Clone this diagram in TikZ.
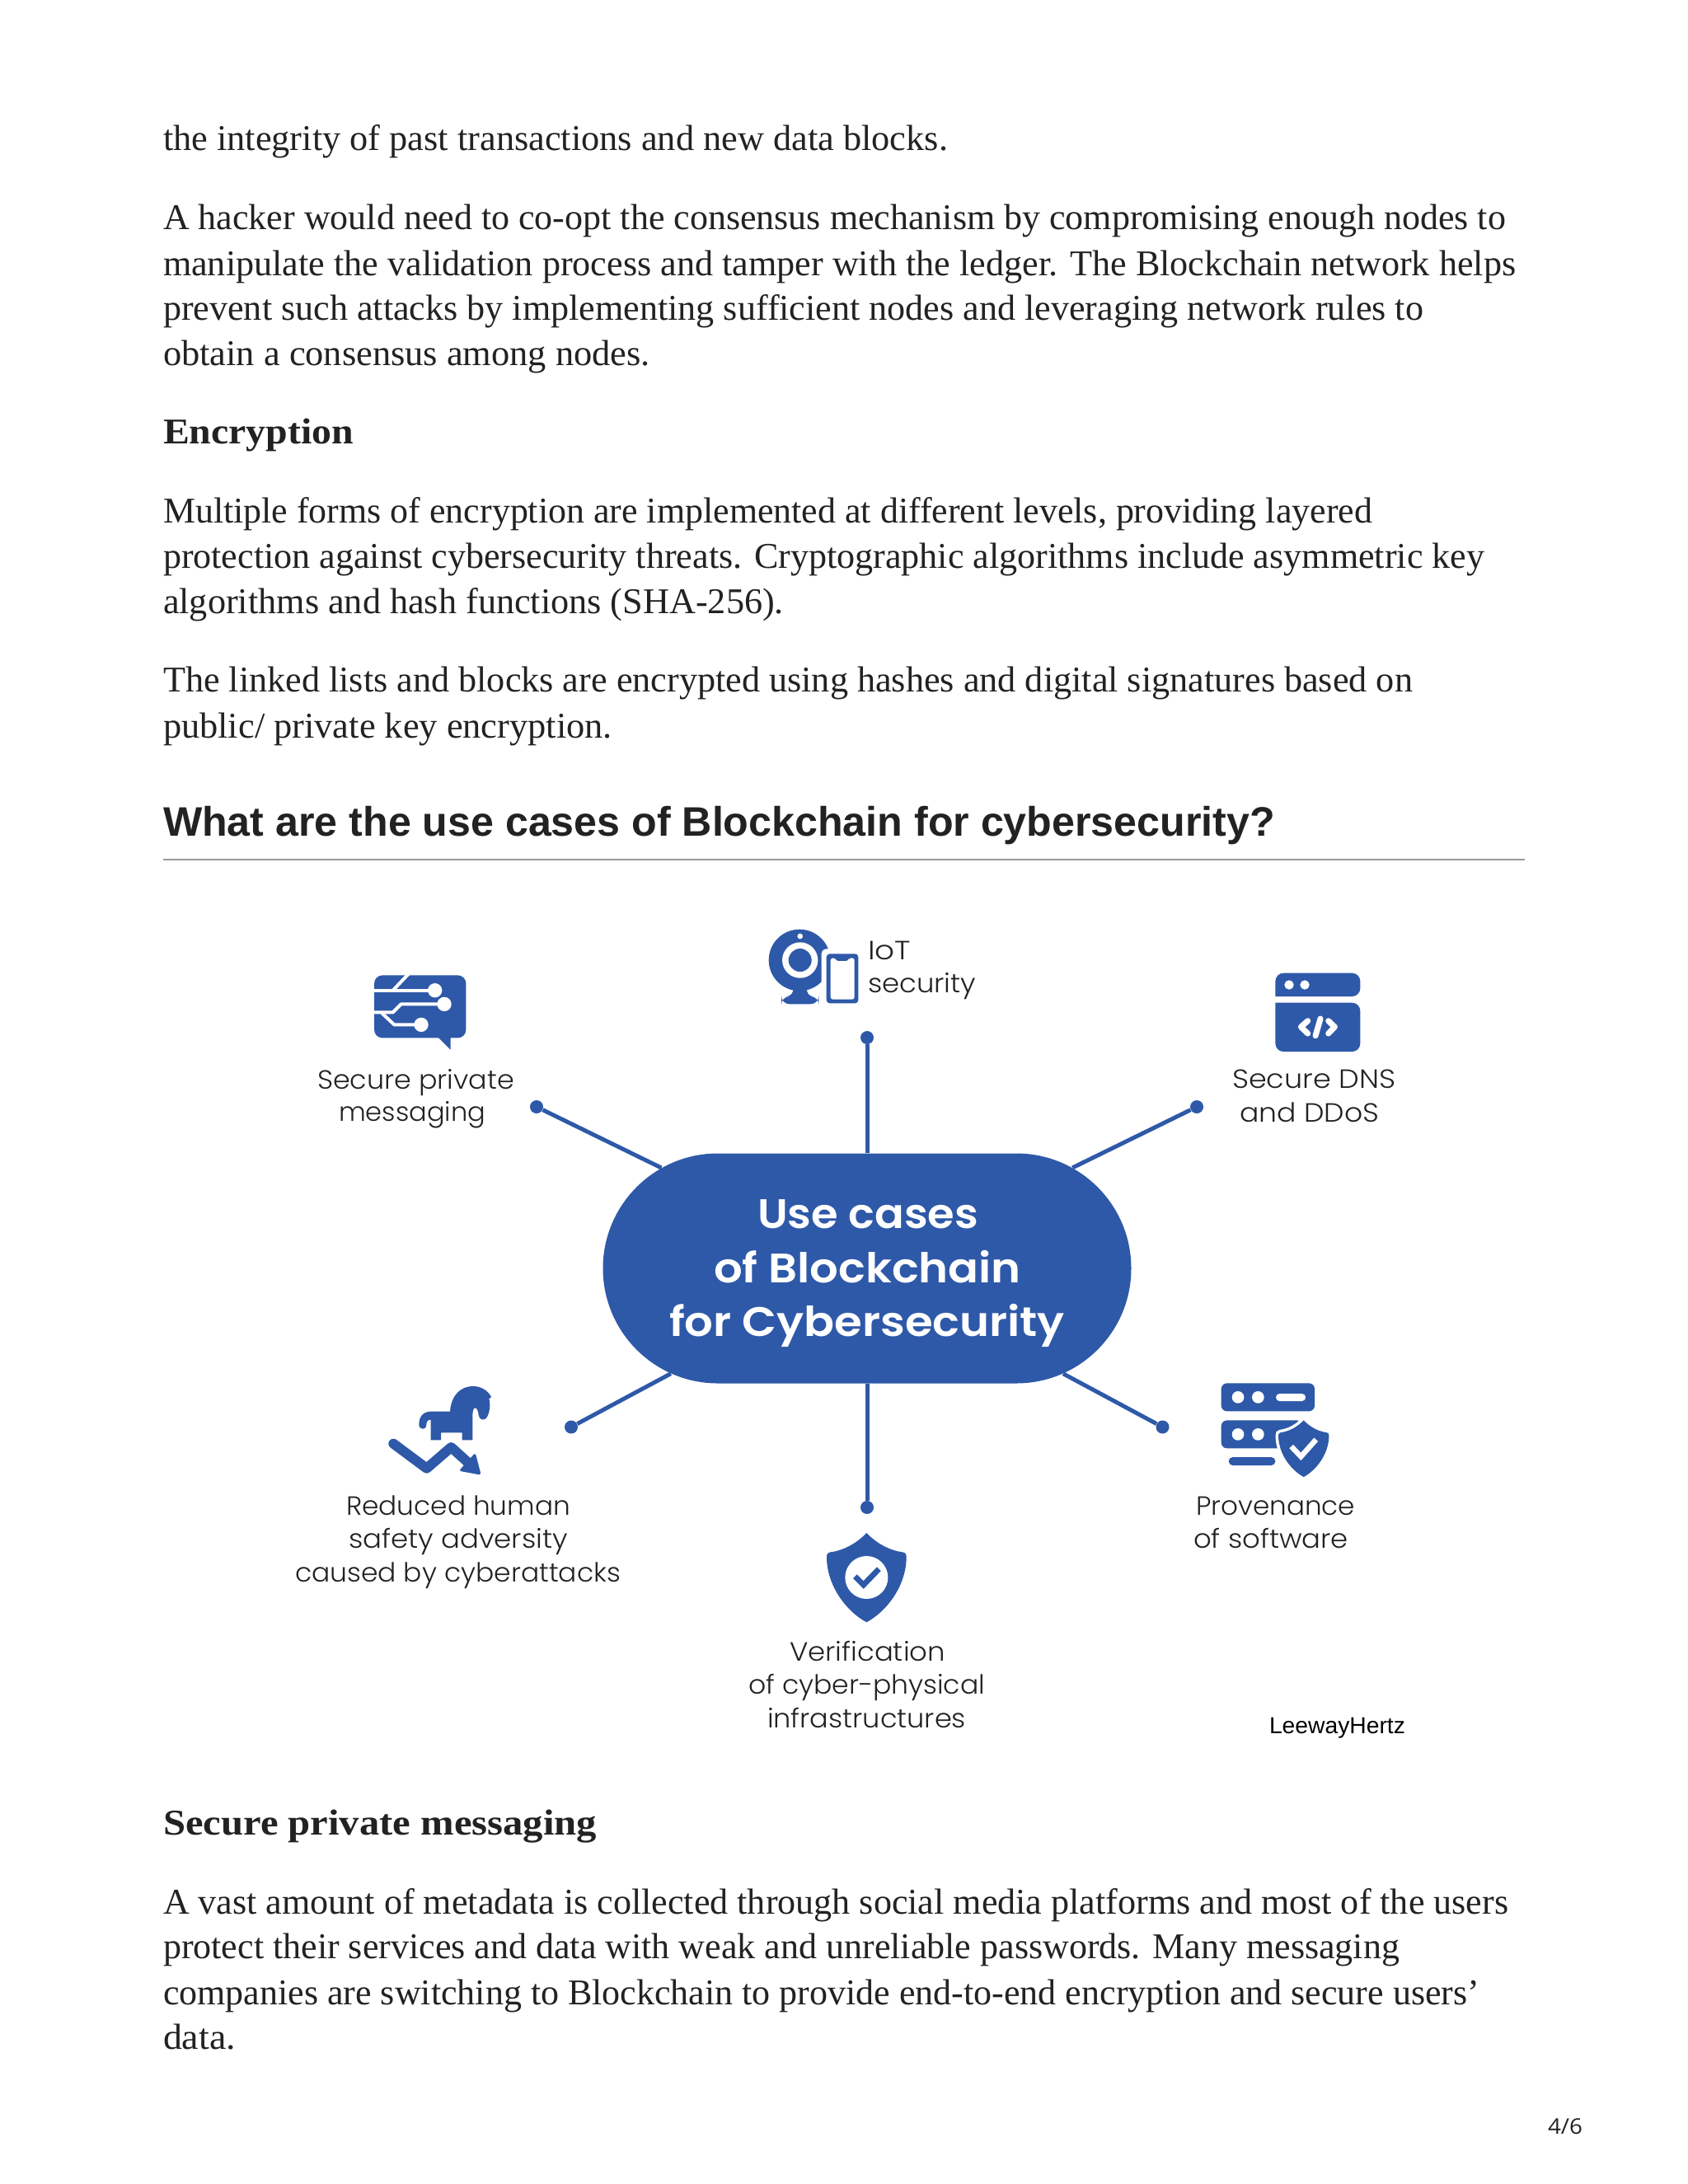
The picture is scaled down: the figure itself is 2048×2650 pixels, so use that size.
\documentclass[tikz,border=0pt]{standalone}
\usepackage{fontspec}
\usepackage{graphicx}
\usetikzlibrary{shapes.misc}
\newfontfamily\bodyf{Liberation Serif}
\newfontfamily\headf{Liberation Sans}
\newfontfamily\labf{Poppins Light}
\newfontfamily\pillf{Poppins SemiBold}
\newfontfamily\numf{Open Sans}
\newcommand\fBody{\bodyf\fontsize{22}{22}\selectfont}
\newcommand\fBold{\bodyf\bfseries\fontsize{22}{22}\selectfont}
\newcommand\fHead{\headf\bfseries\fontsize{25}{25}\selectfont}
\newcommand\fLab{\labf\fontsize{16}{16}\selectfont}
\newcommand\fPill{\pillf\fontsize{25}{25}\selectfont}
\newcommand\fLee{\headf\fontsize{14}{14}\selectfont}
\newcommand\fNum{\numf\fontsize{13}{13}\selectfont}
\definecolor{bluec}{HTML}{2E59A8}
\definecolor{inkc}{HTML}{222222}
\newsavebox\tlbox
% [colour] name, left x, baseline y, right x, font, text
\newcommand\tline[7][inkc]{%
  \pgfinterruptpicture\global\setbox\tlbox=\hbox{#6#7}\endpgfinterruptpicture
  \pgfmathsetmacro\sx{(#5-#3)*0.5/\wd\tlbox}%
  \node[anchor=base west,inner sep=0pt,outer sep=0pt,text=#1] (#2) at (#3,#4) {\scalebox{\sx}[1]{#6#7}};%
}
\tikzset{
  conn/.style={draw=bluec,line width=2.5pt},
  dotc/.style={fill=bluec,draw=none},
  trace/.style={draw=white,line width=2pt,line join=round},
  white stroke/.style={draw=white,line width=3.5pt,line cap=round,line join=round},
  iconfill/.style={fill=bluec,draw=none}
}
\newcommand\shieldpath{(0,0) .. controls (-40,42) and (-90,65) .. (-132,70) .. controls (-142,72) and (-145,78) .. (-145,88) .. controls (-145,190) and (-75,285) .. (0,325) .. controls (75,285) and (145,190) .. (145,88) .. controls (145,78) and (142,72) .. (132,70) .. controls (90,65) and (40,42) .. (0,0) -- cycle}
\begin{document}
\begin{tikzpicture}[x=0.5pt,y=-0.5pt]
\useasboundingbox (0,0) rectangle (2048,2650);
\fill[white] (0,0) rectangle (2048,2650);
% body text
\tline{a1}{198}{182}{1150}{\fBody}{the integrity of past transactions and new data blocks.}
\tline{a2}{198}{278}{1827}{\fBody}{A hacker would need to co-opt the consensus mechanism by compromising enough nodes to}
\tline{a3}{198}{334}{1839}{\fBody}{manipulate the validation process and tamper with the ledger. The Blockchain network helps}
\tline{a4}{198}{388}{1727}{\fBody}{prevent such attacks by implementing sufficient nodes and leveraging network rules to}
\tline{a5}{198}{443.5}{789}{\fBody}{obtain a consensus among nodes.}
\tline{a6}{198}{538.5}{429}{\fBold}{Encryption}
\tline{a7}{198}{634.5}{1665}{\fBody}{Multiple forms of encryption are implemented at different levels, providing layered}
\tline{a8}{198}{689}{1801}{\fBody}{protection against cybersecurity threats. Cryptographic algorithms include asymmetric key}
\tline{a9}{198}{744.5}{951}{\fBody}{algorithms and hash functions (SHA-256).}
\tline{a10}{198}{839}{1714}{\fBody}{The linked lists and blocks are encrypted using hashes and digital signatures based on}
\tline{a11}{198}{895}{743}{\fBody}{public/ private key encryption.}
\tline{h1}{198}{1014.5}{1547}{\fHead}{What are the use cases of Blockchain for cybersecurity?}
\draw[draw=gray!80,line width=1pt] (198,1042.5) coordinate (rl) -- (1850,1042.5) coordinate (rr);
\tline{b1}{198}{2226}{724}{\fBold}{Secure private messaging}
\tline{b2}{198}{2322}{1830}{\fBody}{A vast amount of metadata is collected through social media platforms and most of the users}
\tline{b3}{198}{2376}{1698}{\fBody}{protect their services and data with weak and unreliable passwords. Many messaging}
\tline{b4}{198}{2432}{1795}{\fBody}{companies are switching to Blockchain to provide end-to-end encryption and secure users’}
\tline{b5}{198}{2486}{286}{\fBody}{data.}
\tline{pg}{1878}{2589}{1920}{\fNum}{4/6}
% centre
\node[rounded rectangle,fill=bluec,draw=none,minimum width=320.5pt,minimum height=139.5pt,inner sep=0pt] (pill) at (1052,1539) {};
\foreach \n/\x/\y in {dt/1052/1259,dtl/651/1343,dtr/1452/1343,dbl/693/1731.5,dbr/1410.5/1731.5,db/1052/1829}{
  \node[circle,dotc,minimum size=8pt,inner sep=0pt] (\n) at (\x,\y) {};
  \draw[conn] (pill) -- (\n);
}
\tline[white]{p1}{919}{1490.5}{1187}{\fPill}{Use cases}
\tline[white]{p2}{866}{1556.5}{1239}{\fPill}{of Blockchain}
\tline[white]{p3}{812}{1621.5}{1292}{\fPill}{for Cybersecurity}
% labels
\tline{l1a}{385}{1321}{624}{\fLab}{Secure private}
\tline{l1b}{411}{1360.5}{589}{\fLab}{messaging}
\tline{l2a}{1053}{1164}{1105}{\fLab}{IoT}
\tline{l2b}{1053}{1204}{1184}{\fLab}{security}
\tline{l3a}{1495}{1320.5}{1693}{\fLab}{Secure DNS}
\tline{l3b}{1504}{1361}{1673}{\fLab}{and DDoS}
\tline{l4a}{420}{1838.5}{692}{\fLab}{Reduced human}
\tline{l4b}{423}{1878.5}{689}{\fLab}{safety adversity}
\tline{l4c}{358}{1919.5}{753}{\fLab}{caused by cyberattacks}
\tline{l5a}{958}{2015.5}{1147}{\fLab}{Verification}
\tline{l5b}{908}{2055.5}{1195}{\fLab}{of cyber-physical}
\tline{l5c}{931}{2096.5}{1172}{\fLab}{infrastructures}
\tline{l6a}{1451}{1838.5}{1644}{\fLab}{Provenance}
\tline{l6b}{1448}{1878.5}{1636}{\fLab}{of software}
\tline[black]{lh}{1540}{2103}{1705}{\fLee}{LeewayHertz}
% message icon
\begin{scope}[shift={(360,1080)},x=0.1667pt,y=-0.1667pt]
\fill[iconfill,rounded corners=5pt] (282,310) rectangle (616,538);
\fill[iconfill] (515,536) -- (560,581) -- (560,536) -- cycle;
\draw[trace] (276,365) -- (490,365);
\draw[trace] (350,365) -- (408,304);
\draw[trace] (276,445) -- (350,445) -- (380,415) -- (520,415);
\draw[trace] (310,448) -- (355,490) -- (440,490);
\fill[white] (503,365) circle (26) (537,415) circle (26) (453,490) circle (26);
\end{scope}
% webcam icon
\begin{scope}[shift={(880,1080)},x=0.1667pt,y=-0.1667pt]
\fill[iconfill] (270,255) circle (112);
\fill[iconfill] (248,355) -- (296,355) .. controls (296,375) and (305,387) .. (320,387) -- (220,387) .. controls (238,387) and (248,375) .. (248,355) -- cycle;
\fill[iconfill,rounded corners=5pt] (204,387) rectangle (340,415);
\fill[white] (272,255) circle (65);
\fill[iconfill] (272,255) circle (42);
\fill[white] (272,168) circle (10);
\fill[white,rounded corners=3pt] (350,214) rectangle (502,430);
\fill[iconfill,rounded corners=2pt] (368,232) rectangle (484,412);
\fill[white,rounded corners=1.5pt] (383,247) -- (400,247) -- (402,258) -- (448,258) -- (450,247) -- (470,247) -- (470,398) -- (383,398) -- cycle;
\end{scope}
% browser icon
\begin{scope}[shift={(1480,1130)},x=0.1667pt,y=-0.1667pt]
\fill[iconfill,rounded corners=5pt] (202,237) -- (202,152) -- (511,152) -- (511,237) [sharp corners] -- cycle;
\fill[iconfill,rounded corners=5pt] (202,260) -- (202,438) -- (511,438) -- (511,260) [sharp corners] -- cycle;
\fill[white] (252,195) circle (17) (309,195) circle (17);
\draw[white stroke] (320,326) -- (295,348) -- (320,372);
\draw[white stroke] (366,318) -- (348,380);
\draw[white stroke] (395,326) -- (418,348) -- (395,372);
\end{scope}
% trojan horse icon
\begin{scope}[shift={(440,1630)},x=0.1667pt,y=-0.1667pt]
\fill[iconfill] (248,352) -- (248,278) .. controls (235,278) and (232,285) .. (232,298) .. controls (232,316) and (205,316) .. (205,295) .. controls (205,265) and (222,248) .. (248,248) -- (318,248) .. controls (322,190) and (355,155) .. (405,156) .. controls (430,157) and (455,170) .. (468,195) -- (460,202) .. controls (466,225) and (462,255) .. (450,272) .. controls (440,282) and (425,278) .. (422,262) .. controls (421,245) and (415,235) .. (410,235) .. controls (403,235) and (400,245) .. (400,262) -- (400,352) -- (362,352) -- (362,325) -- (285,325) -- (285,352) -- cycle;
\draw[bluec,line width=6pt,line cap=round,line join=round] (112,365) -- (233,455) -- (322,378) -- (385,435);
\fill[iconfill,rounded corners=1.5pt] (410,398) -- (431,479) -- (350,464) -- cycle;
\end{scope}
% server icon
\begin{scope}[shift={(1440,1640)},x=0.1667pt,y=-0.1667pt]
\fill[iconfill,rounded corners=3.5pt] (125,115) rectangle (465,217);
\fill[white] (186,166) circle (22) (259,166) circle (22);
\fill[white,rounded corners=2.2pt] (324,153) rectangle (432,180);
\fill[iconfill,rounded corners=3.5pt] (125,250) rectangle (420,352);
\fill[white] (186,301) circle (22) (259,301) circle (22);
\fill[iconfill,rounded corners=2.5pt] (152,384) rectangle (322,414);
\begin{scope}[shift={(425,250)},x=0.1057pt,y=-0.1057pt]
\draw[draw=white,line width=3.5pt,fill=white] \shieldpath;
\fill[iconfill] \shieldpath;
\end{scope}
\draw[white,line width=3.2pt] (380,345) -- (415,382) -- (470,320);
\end{scope}
% shield icon
\begin{scope}[shift={(960,1800)},x=0.1667pt,y=-0.1667pt]
\begin{scope}[shift={(274,180)}]
\fill[iconfill] \shieldpath;
\end{scope}
\fill[white] (274,342) circle (78);
\draw[bluec,line width=3.4pt] (232,338) -- (263,369) -- (319,311);
\end{scope}
\end{tikzpicture}
\end{document}
